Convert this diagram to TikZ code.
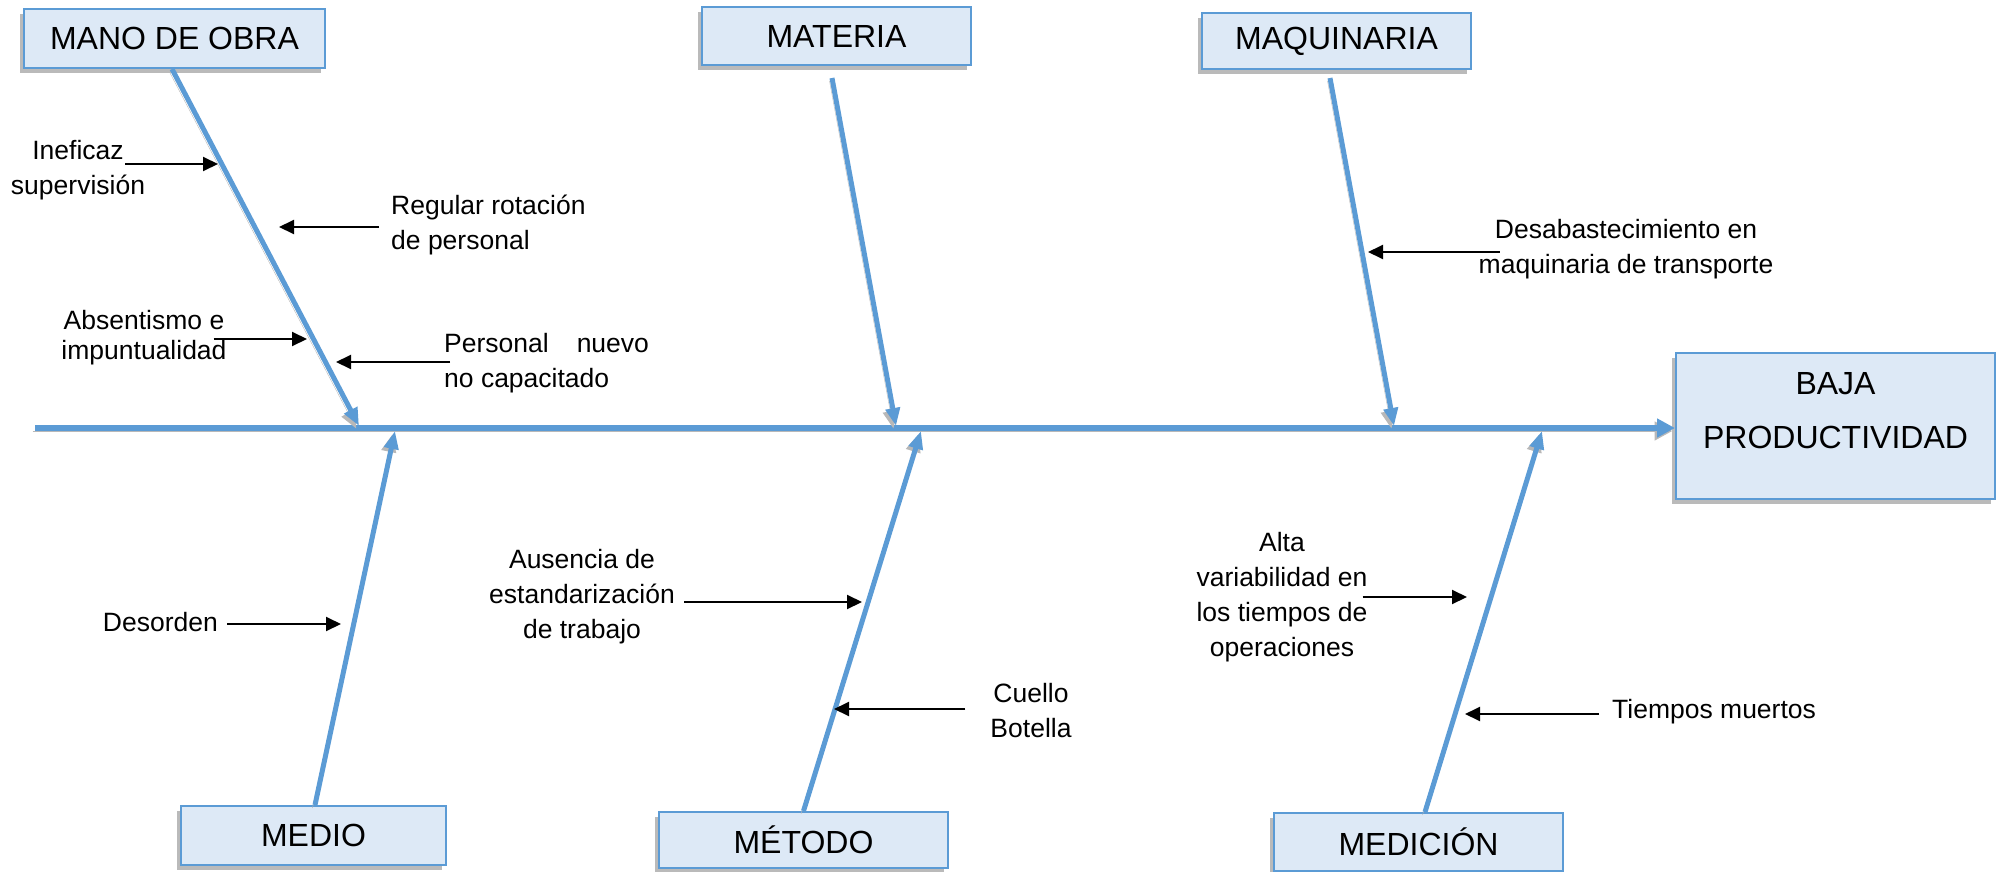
\documentclass[tikz,border=0pt]{standalone}
\usepackage{fontspec}
\setmainfont{Liberation Sans}
\usetikzlibrary{arrows.meta,calc,shadows}
\definecolor{boneblue}{RGB}{91,155,213}
\definecolor{boxfill}{RGB}{221,233,246}

\begin{document}
\begin{tikzpicture}[x=1pt, y=-1pt,
  cat/.style={draw=boneblue, line width=2pt, fill=boxfill, inner sep=0pt,
              font=\fontsize{32}{38}\selectfont,
              drop shadow={shadow xshift=-4pt, shadow yshift=-5pt, fill=black!45, opacity=0.6}},
  cause/.style={inner sep=0pt, font=\fontsize{26.5}{35}\selectfont},
  shade/.style={preaction={draw=black!28, transform canvas={xshift=-2.5pt, yshift=-3pt}}},
  bone/.style={draw=boneblue, line width=5pt, shade,
               -{Triangle[length=18pt,width=14pt]}},
  spine/.style={draw=boneblue, line width=6pt, shade,
                -{Triangle[length=18pt,width=18pt]}},
  arr/.style={-{Triangle[length=15pt,width=14pt]}, line width=2pt}
]
\useasboundingbox (0,0) rectangle (2002,872);

% Categories - top row
\node[cat, minimum width=301pt, minimum height=59pt] (mano) at (174.5,38.5) {MANO DE OBRA};
\node[cat, minimum width=269pt, minimum height=58pt] (materia) at (836.5,36) {MATERIA};
\node[cat, minimum width=269pt, minimum height=56pt] (maquinaria) at (1336.5,41) {MAQUINARIA};

% Effect
\node[cat, minimum width=319pt, minimum height=146pt, align=center,
      font=\fontsize{32}{54}\selectfont] (baja) at (1835.5,426)
      {BAJA\\PRODUCTIVIDAD\\[-22pt]\mbox{}};

% Categories - bottom row
\node[cat, minimum width=265pt, minimum height=59pt] (medio) at (313.5,835.5) {MEDIO};
\node[cat, minimum width=289pt, minimum height=56pt] (metodo) at (803.5,840) {MÉTODO};
\node[cat, minimum width=289pt, minimum height=58pt] (medicion) at (1418.5,842) {MEDICIÓN};

% Spine
\coordinate (tail) at (35,428);
\draw[spine] (tail) -- (tail -| baja.west);

% Bones
\coordinate (jmano) at (359,426);
\coordinate (jmateria) at (896,426);
\coordinate (jmaq) at (1394,426);
\coordinate (jmedio) at (395,431);
\coordinate (jmetodo) at (921,431);
\coordinate (jmedicion) at (1542,431);

\draw[bone] ([xshift=-2.5pt]mano.south) -- (jmano);
\draw[bone] ([shift={(-4.5,12)}]materia.south) -- (jmateria);
\draw[bone] ([shift={(-6.5,8)}]maquinaria.south) -- (jmaq);
\draw[bone] ([xshift=1.5pt]medio.north) -- (jmedio);
\draw[bone] (metodo.north) -- (jmetodo);
\draw[bone] ([xshift=6.5pt]medicion.north) -- (jmedicion);

% Causes - Mano de obra
\node[cause, align=center] (inef) at (78,170) {Ineficaz\\supervisión};
\coordinate (hinef) at (218,164);
\draw[arr] ($(inef.east |- hinef)+(-20,0)$) -- (hinef);

\node[cause, align=left, anchor=west] (rot) at (391,225) {Regular rotación\\de personal};
\coordinate (hrot) at (279,227);
\draw[arr] ($(rot.west |- hrot)+(-12,0)$) -- (hrot);

\node[cause, align=center, font=\fontsize{26.5}{30}\selectfont] (absent) at (144,338)
     {Absentismo e\\impuntualidad};
\coordinate (habs) at (307,339);
\draw[arr] ($(absent.east |- habs)+(-13,0)$) -- (habs);

\node[cause, align=left, anchor=west] (nuevo) at (444,363)
     {Personal\hspace{28pt}nuevo\\no capacitado};
\coordinate (hnuevo) at (336,362);
\draw[arr] ($(nuevo.west |- hnuevo)+(6,0)$) -- (hnuevo);

% Causes - Maquinaria
\node[cause, align=center] (desab) at (1626,249)
     {Desabastecimiento en\\maquinaria de transporte};
\coordinate (hdesab) at (1368,252);
\draw[arr] ($(desab.west |- hdesab)+(21,0)$) -- (hdesab);

% Causes - Medio
\node[cause, anchor=east] (desorden) at (218,622) {Desorden};
\coordinate (hdes) at (341,624);
\draw[arr] ($(desorden.east |- hdes)+(9,0)$) -- (hdes);

% Causes - Metodo
\node[cause, align=center] (ausencia) at (582,597)
     {Ausencia de\\estandarización\\de trabajo};
\coordinate (haus) at (862,602);
\draw[arr] ($(ausencia.east |- haus)+(9,0)$) -- (haus);

\node[cause, align=center] (cuello) at (1031,711) {Cuello\\Botella};
\coordinate (hcuello) at (834,709);
\draw[arr] ($(cuello.west |- hcuello)+(-25,0)$) -- (hcuello);

% Causes - Medicion
\node[cause, align=center] (alta) at (1282,597)
     {Alta\\variabilidad en\\los tiempos de\\operaciones};
\coordinate (halta) at (1467,597);
\draw[arr] ($(alta.east |- halta)+(-5,0)$) -- (halta);

\node[cause, anchor=west] (muertos) at (1612,712) {Tiempos muertos};
\coordinate (hmuertos) at (1465,714);
\draw[arr] ($(muertos.west |- hmuertos)+(-13,0)$) -- (hmuertos);

\end{tikzpicture}
\end{document}
